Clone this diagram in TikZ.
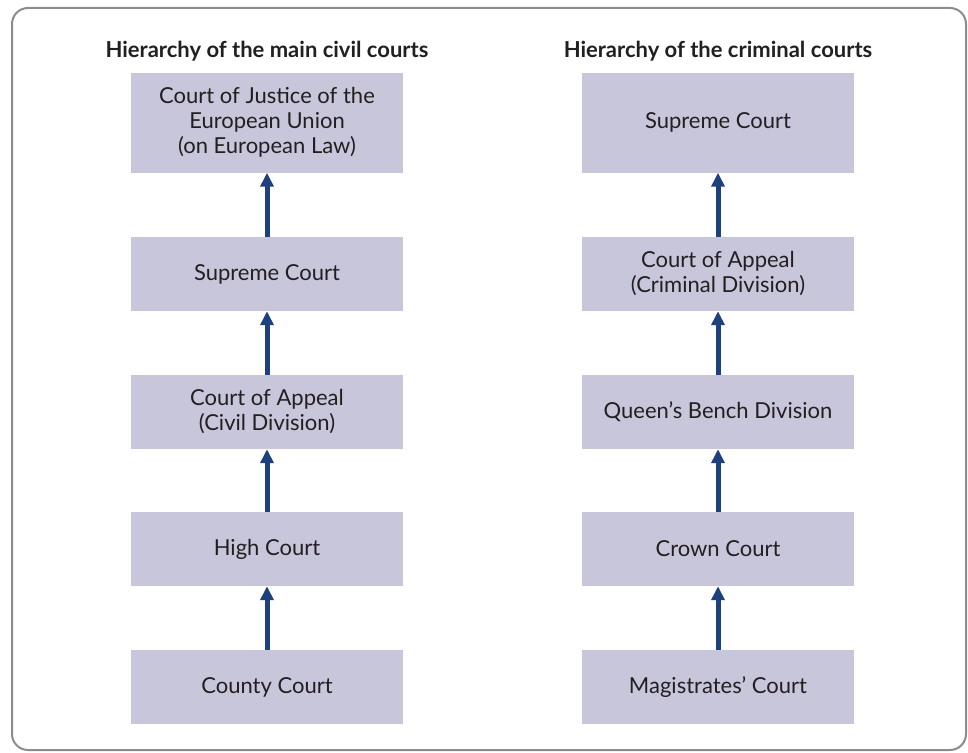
\documentclass[tikz,border=0pt]{standalone}
\usepackage{fontspec}
\setmainfont{Lato}
\usepackage{tikz}
\usetikzlibrary{arrows.meta,positioning}
\usepackage{xcolor}
\definecolor{courtfill}{RGB}{200,198,218}
\definecolor{courtblue}{RGB}{30,64,124}
\definecolor{courttext}{RGB}{35,31,32}
\definecolor{framegray}{RGB}{140,140,140}
\tikzstyle{arrow} = [line width=5pt,-{Triangle[width=13pt,length=14pt]},color=courtblue]
\tikzstyle{court} = [rectangle, minimum width=272pt, minimum height=74pt, inner sep=0pt, text centered, fill=courtfill, text=courttext, font=\fontsize{22}{25}\selectfont, align=center]
\tikzstyle{heading} = [font=\fontsize{22}{25}\selectfont\bfseries, text=courttext]

\begin{document}
\begin{tikzpicture}[x=1pt,y=1pt]
\useasboundingbox (0,0) rectangle (968,-752);
\draw[framegray, line width=2pt, rounded corners=16pt] (12,-8) rectangle (966,-750);

% Civil courts
\node (civtitle) [heading] at (267,-51) {Hierarchy of the main civil courts};
\node (civ1) [court, minimum height=100pt] at (267,-122.5) {Court of Justice of the\\European Union\\(on European Law)};
\node (civ2) [court, below of=civ1, node distance=151.5pt] {Supreme Court};
\node (civ3) [court, below of=civ2, node distance=138pt] {Court of Appeal\\(Civil Division)};
\node (civ4) [court, below of=civ3, node distance=137pt] {High Court};
\node (civ5) [court, below of=civ4, node distance=138pt] {County Court};

% Criminal courts
\node (crimtitle) [heading] at (718,-51) {Hierarchy of the criminal courts};
\node (crim1) [court, minimum height=100pt] at (718,-122.5) {Supreme Court};
\node (crim2) [court, below of=crim1, node distance=151.5pt] {Court of Appeal\\(Criminal Division)};
\node (crim3) [court, below of=crim2, node distance=138pt] {Queen’s Bench Division};
\node (crim4) [court, below of=crim3, node distance=137pt] {Crown Court};
\node (crim5) [court, below of=crim4, node distance=138pt] {Magistrates’ Court};

% Appeals upwards
\draw[arrow] (civ5) -- (civ4);
\draw[arrow] (civ4) -- (civ3);
\draw[arrow] (civ3) -- (civ2);
\draw[arrow] (civ2) -- (civ1);
\draw[arrow] (crim5) -- (crim4);
\draw[arrow] (crim4) -- (crim3);
\draw[arrow] (crim3) -- (crim2);
\draw[arrow] (crim2) -- (crim1);
\end{tikzpicture}
\end{document}
